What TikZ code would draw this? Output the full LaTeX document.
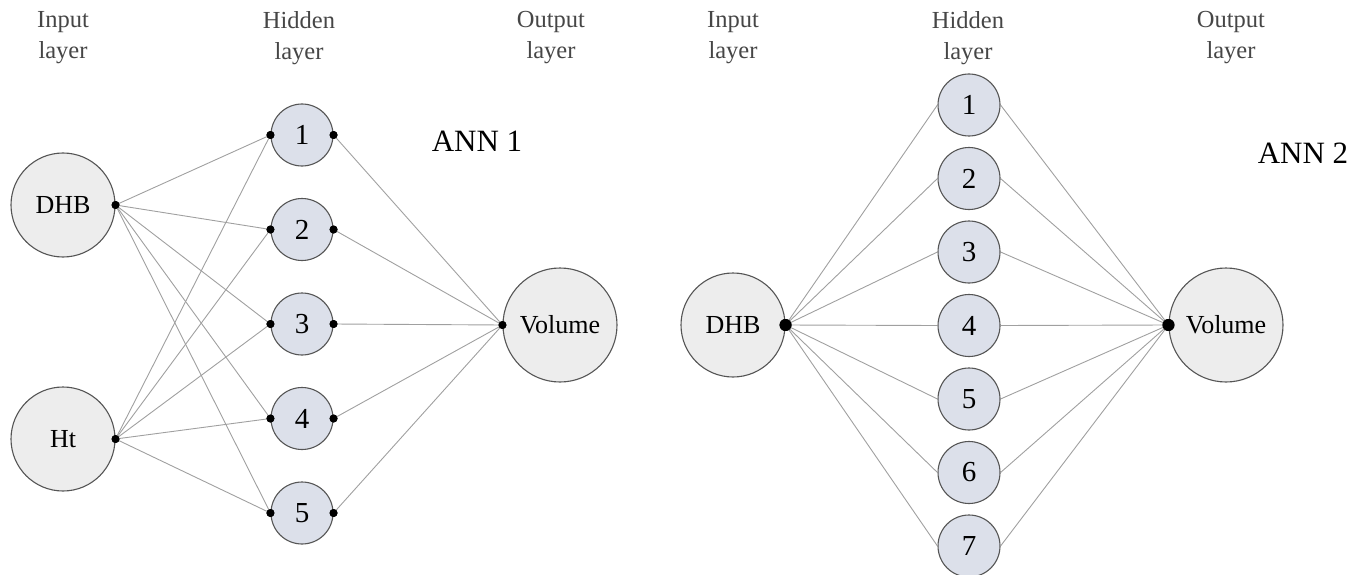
\documentclass[tikz,border=0pt]{standalone}
\usepackage{fontspec}
\setmainfont{Liberation Serif}
\definecolor{iofill}{RGB}{237,237,237}
\definecolor{hidfill}{RGB}{220,224,234}
\definecolor{rim}{RGB}{85,85,85}
\definecolor{edgecol}{RGB}{160,160,160}
\definecolor{headcol}{RGB}{70,70,70}
\tikzset{
 io/.style={circle, draw=rim, line width=1.1pt, fill=iofill, minimum size=104pt, inner sep=0pt, font=\fontsize{26}{26}\selectfont},
 outn/.style={io, minimum size=114pt},
 hid/.style={circle, draw=rim, line width=1.1pt, fill=hidfill, minimum size=62pt, inner sep=0pt, font=\fontsize{29}{29}\selectfont},
 head/.style={align=center, text=headcol, font=\fontsize{24.5}{31}\selectfont},
 edge/.style={draw=edgecol, line width=0.9pt},
 dotA/.style={circle, fill=black, inner sep=0pt, minimum size=8pt},
 dotB/.style={circle, fill=black, inner sep=0pt, minimum size=12pt},
 annlab/.style={font=\fontsize{31}{31}\selectfont}
}
\begin{document}
\begin{tikzpicture}[x=1pt,y=-1pt]
\useasboundingbox (0,0) rectangle (1362,575);
% headers
\node[head] (hi1) at (63,38) {Input\\layer};
\node[head] (hh1) at (299,38) {Hidden\\layer};
\node[head] (ho1) at (551,38) {Output\\layer};
\node[head] (hi2) at (733,38) {Input\\layer};
\node[head] (hh2) at (968,38) {Hidden\\layer};
\node[head] (ho2) at (1231,38) {Output\\layer};
\node[annlab] (ann1) at (477,141) {ANN 1};
\node[annlab] (ann2) at (1303,153) {ANN 2};
% ANN 1 nodes
\node[io] (a1in) at (63,205) {DHB};
\node[io] (a1ht) at (63,439) {Ht};
\node[outn] (a1out) at (560,325) {Volume};
\foreach \i/\y in {1/135,2/229.5,3/324,4/418.5,5/513}{
  \node[hid] (a1h\i) at (302,\y) {\i};
}
% ANN 2 nodes
\node[io] (a2in) at (733,325) {DHB};
\node[outn] (a2out) at (1226,325) {Volume};
\foreach \i/\y in {1/105,2/178.5,3/252,4/325.5,5/399,6/472.5,7/546}{
  \node[hid] (a2h\i) at (969,\y) {\i};
}
% ANN 1 dots
\node[dotA] (a1ind) at (a1in.east) {};
\node[dotA] (a1htd) at (a1ht.east) {};
\node[dotA] (a1outd) at (a1out.west) {};
\foreach \i in {1,...,5}{
  \node[dotA] (a1l\i) at (a1h\i.west) {};
  \node[dotA] (a1r\i) at (a1h\i.east) {};
}
% ANN 2 dots
\node[dotB] (a2ind) at (a2in.east) {};
\node[dotB] (a2outd) at (a2out.west) {};
% ANN 1 edges
\foreach \i in {1,...,5}{
  \draw[edge] (a1ind.center) -- (a1l\i.center);
  \draw[edge] (a1htd.center) -- (a1l\i.center);
  \draw[edge] (a1r\i.center) -- (a1outd.center);
}
% ANN 2 edges
\foreach \i in {1,...,7}{
  \draw[edge] (a2ind.center) -- (a2h\i.west);
  \draw[edge] (a2h\i.east) -- (a2outd.center);
}
% redraw dots on top
\foreach \n in {a1ind,a1htd,a1outd,a1l1,a1l2,a1l3,a1l4,a1l5,a1r1,a1r2,a1r3,a1r4,a1r5}{
  \fill (\n.center) circle (4pt);
}
\foreach \n in {a2ind,a2outd}{
  \fill (\n.center) circle (6pt);
}
\end{tikzpicture}
\end{document}
